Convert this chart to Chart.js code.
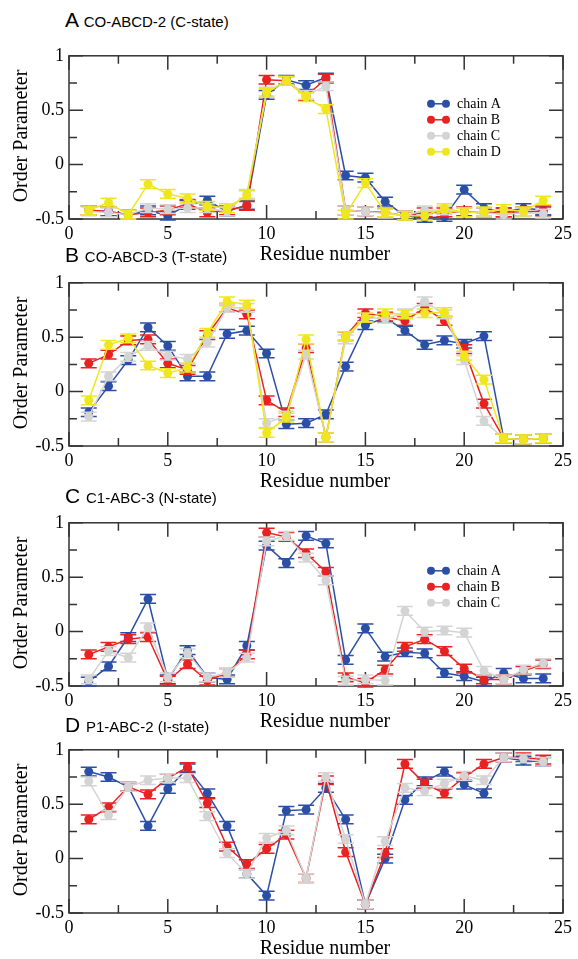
<!DOCTYPE html>
<html>
<head>
<meta charset="utf-8">
<script src="https://cdn.jsdelivr.net/npm/chart.js@4.4.1/dist/chart.umd.min.js"></script>
<style>
body { margin: 0; background: #fff; }
#page { position: relative; width: 578px; height: 959px; overflow: hidden; }
canvas { position: absolute; left: 0; }
.title { position: absolute; left: 65px; font-family: 'Liberation Sans', Arial, sans-serif; font-size: 21px; line-height: 1; white-space: nowrap; color: #000; }
.title span { font-size: 15px; }
.xlab { position: absolute; width: 200px; text-align: center; font-family: 'Liberation Serif', serif; font-size: 20px; line-height: 1; white-space: nowrap; color: #000; }
.ylab { position: absolute; width: 200px; height: 20px; text-align: center; font-family: 'Liberation Serif', serif; font-size: 20px; line-height: 20px; white-space: nowrap; color: #000; transform: rotate(-90deg); }
</style>
</head>
<body>
<div id="page"></div>
<script>
Chart.defaults.font.family = "'Liberation Serif', serif";
Chart.defaults.color = '#000';

const residues = [1, 2, 3, 4, 5, 6, 7, 8, 9, 10, 11, 12, 13, 14, 15, 16, 17, 18, 19, 20, 21, 22, 23, 24];

// A  CO-ABCD-2 (C-state)
const cStateA = [-0.42, -0.43, -0.46, -0.42, -0.47, -0.37, -0.33, -0.43, -0.37, 0.64, 0.78, 0.73, 0.80, -0.10, -0.12, -0.34, -0.47, -0.49, -0.48, -0.23, -0.40, -0.44, -0.40, -0.42];
const cStateB = [-0.42, -0.43, -0.46, -0.44, -0.42, -0.36, -0.44, -0.42, -0.38, 0.78, 0.77, 0.63, 0.79, -0.42, -0.43, -0.44, -0.47, -0.44, -0.44, -0.43, -0.44, -0.44, -0.43, -0.43];
const cStateC = [-0.43, -0.44, -0.46, -0.40, -0.41, -0.40, -0.40, -0.43, -0.27, 0.67, 0.77, 0.64, 0.72, -0.42, -0.43, -0.45, -0.47, -0.42, -0.42, -0.44, -0.44, -0.46, -0.44, -0.45];
const cStateD = [-0.42, -0.35, -0.46, -0.18, -0.27, -0.31, -0.38, -0.40, -0.28, 0.66, 0.77, 0.62, 0.51, -0.46, -0.17, -0.44, -0.47, -0.47, -0.40, -0.44, -0.43, -0.41, -0.43, -0.33];

// B  CO-ABCD-3 (T-state)
const tStateA = [-0.19, 0.05, 0.29, 0.59, 0.42, 0.14, 0.14, 0.53, 0.56, 0.35, -0.30, -0.29, -0.21, 0.23, 0.61, 0.68, 0.56, 0.43, 0.47, 0.44, 0.51, -0.43, -0.44, -0.43];
const tStateB = [0.26, 0.34, 0.47, 0.48, 0.26, 0.20, 0.52, 0.77, 0.71, -0.08, -0.19, 0.40, -0.42, 0.51, 0.72, 0.69, 0.65, 0.77, 0.65, 0.39, -0.11, -0.43, -0.44, -0.43];
const tStateC = [-0.23, 0.14, 0.32, 0.42, 0.33, 0.30, 0.45, 0.77, 0.77, -0.29, -0.22, 0.34, -0.42, 0.48, 0.68, 0.67, 0.72, 0.83, 0.71, 0.29, -0.27, -0.43, -0.44, -0.43];
const tStateD = [-0.08, 0.43, 0.49, 0.24, 0.17, 0.22, 0.54, 0.83, 0.80, -0.38, -0.24, 0.48, -0.42, 0.51, 0.68, 0.72, 0.71, 0.72, 0.73, 0.33, 0.11, -0.43, -0.44, -0.43];

// C  C1-ABC-3 (N-state)
const nStateA = [-0.46, -0.32, -0.05, 0.30, -0.44, -0.17, -0.42, -0.44, -0.13, 0.79, 0.63, 0.88, 0.81, -0.26, 0.03, -0.23, -0.19, -0.20, -0.38, -0.41, -0.46, -0.38, -0.43, -0.43];
const nStateB = [-0.21, -0.14, -0.07, -0.05, -0.45, -0.30, -0.45, -0.38, -0.21, 0.91, 0.87, 0.72, 0.55, -0.42, -0.47, -0.35, -0.14, -0.07, -0.18, -0.34, -0.44, -0.44, -0.36, -0.30];
const nStateC = [-0.44, -0.18, -0.24, 0.04, -0.42, -0.20, -0.42, -0.38, -0.24, 0.83, 0.88, 0.68, 0.47, -0.45, -0.44, -0.45, 0.19, 0.00, 0.01, -0.01, -0.36, -0.44, -0.35, -0.29];

// D  P1-ABC-2 (I-state)
const iStateA = [0.80, 0.75, 0.66, 0.30, 0.64, 0.83, 0.60, 0.30, -0.14, -0.34, 0.44, 0.45, 0.65, 0.36, -0.42, 0.00, 0.54, 0.71, 0.80, 0.68, 0.60, 0.93, 0.90, 0.89];
const iStateB = [0.36, 0.47, 0.66, 0.59, 0.74, 0.84, 0.51, 0.11, -0.05, 0.09, 0.22, -0.18, 0.72, 0.06, -0.42, 0.05, 0.87, 0.69, 0.60, 0.75, 0.87, 0.93, 0.93, 0.91];
const iStateC = [0.71, 0.40, 0.66, 0.72, 0.74, 0.74, 0.39, 0.05, -0.14, 0.19, 0.26, -0.18, 0.75, 0.18, -0.42, 0.16, 0.65, 0.62, 0.69, 0.76, 0.72, 0.93, 0.92, 0.89];

// half length of the error bars
const errBar = 0.04;

const xTicks = [0, 5, 10, 15, 20, 25];
const yTicks = [-0.5, 0, 0.5, 1];

const blue = '#2b4ea6';
const red = '#e82222';
const grey = '#d4d4d4';
const yellow = '#efe61e';

const PLOT_H = 167;


// frame with inward ticks on all four sides
const frame = {
    id: 'frame',
    beforeDatasetsDraw(chart) {
        const { ctx, chartArea: a, scales: { x, y } } = chart;
        ctx.save();
        ctx.strokeStyle = '#333';
        ctx.lineWidth = 1.5;
        ctx.strokeRect(a.left, a.top, a.right - a.left, a.bottom - a.top);
        ctx.beginPath();
        for (let i = 0; i < xTicks.length; i++) {
            const steps = [xTicks[i]];
            if (i < xTicks.length - 1) steps.push((xTicks[i] + xTicks[i + 1]) / 2);
            steps.forEach((v, k) => {
                const len = k === 0 ? 14 : 8;
                const px = x.getPixelForValue(v);
                ctx.moveTo(px, a.bottom); ctx.lineTo(px, a.bottom - len);
                ctx.moveTo(px, a.top); ctx.lineTo(px, a.top + len);
            });
        }
        for (let i = 0; i < yTicks.length; i++) {
            const steps = [yTicks[i]];
            if (i < yTicks.length - 1) steps.push((yTicks[i] + yTicks[i + 1]) / 2);
            steps.forEach((v, k) => {
                const len = k === 0 ? 14 : 8;
                const py = y.getPixelForValue(v);
                ctx.moveTo(a.left, py); ctx.lineTo(a.left + len, py);
                ctx.moveTo(a.right, py); ctx.lineTo(a.right - len, py);
            });
        }
        ctx.stroke();
        ctx.restore();
    }
};


// vertical error bars with caps, in the colour of each chain
const errorBars = {
    id: 'errorBars',
    beforeDatasetDraw(chart, args) {
        const { ctx, scales: { y } } = chart;
        const ds = chart.data.datasets[args.index];
        ctx.save();
        ctx.strokeStyle = ds.borderColor;
        ctx.lineWidth = 1.5;
        ctx.beginPath();
        args.meta.data.forEach((pt, j) => {
            const v = ds.data[j].y;
            const top = y.getPixelForValue(v + errBar);
            const bot = y.getPixelForValue(v - errBar);
            ctx.moveTo(pt.x, top); ctx.lineTo(pt.x, bot);
            ctx.moveTo(pt.x - 8, top); ctx.lineTo(pt.x + 8, top);
            ctx.moveTo(pt.x - 8, bot); ctx.lineTo(pt.x + 8, bot);
        });
        ctx.stroke();
        ctx.restore();
    }
};


// grace style key: dot - line - dot, then the label
const chainKey = {
    id: 'chainKey',
    afterDraw(chart, args, opts) {
        if (!opts.show) return;
        const { ctx, chartArea: a } = chart;
        const x0 = a.left + 362;
        ctx.save();
        ctx.font = "14px 'Liberation Serif', serif";
        ctx.textBaseline = 'middle';
        chart.data.datasets.forEach((ds, i) => {
            const yy = a.top + 48 + i * 16;
            ctx.strokeStyle = ds.borderColor;
            ctx.fillStyle = ds.borderColor;
            ctx.lineWidth = 1.5;
            ctx.beginPath();
            ctx.moveTo(x0, yy); ctx.lineTo(x0 + 15, yy);
            ctx.stroke();
            [x0, x0 + 15].forEach(cx => {
                ctx.beginPath();
                ctx.arc(cx, yy, 4, 0, Math.PI * 2);
                ctx.fill();
            });
            ctx.fillStyle = '#000';
            ctx.fillText(ds.label, x0 + 26, yy + 1);
        });
        ctx.restore();
    }
};


function addText(cls, html, left, top) {
    const el = document.createElement('div');
    el.className = cls;
    el.innerHTML = html;
    el.style.left = left + 'px';
    el.style.top = top + 'px';
    document.getElementById('page').appendChild(el);
}


function addPanel(p) {
    const page = document.getElementById('page');
    const canvas = document.createElement('canvas');
    canvas.width = 578;
    canvas.height = 12 + PLOT_H + 30;
    canvas.style.top = (p.top - 12) + 'px';
    page.appendChild(canvas);

    addText('title', p.letter + ' <span>' + p.name + '</span>', 65, p.titleBase - 18);
    addText('xlab', 'Residue number', 225, p.top + PLOT_H + 41 - 17);
    addText('ylab', 'Order Parameter', 20 - 100, p.top + PLOT_H / 2 - 10);

    new Chart(canvas, {
        type: 'line',
        data: {
            datasets: p.series.map((s, i) => ({
                label: s.label,
                data: residues.map((r, j) => ({ x: r, y: s.values[j] })),
                borderColor: s.color,
                backgroundColor: s.color,
                pointBackgroundColor: s.color,
                pointBorderColor: s.color,
                pointRadius: 4.5,
                pointBorderWidth: 0,
                borderWidth: 1.5,
                tension: 0,
                clip: false,
                order: p.series.length - i
            }))
        },
        options: {
            responsive: false,
            animation: false,
            devicePixelRatio: 1,
            layout: { padding: { top: 12, right: 15, left: 0, bottom: 0 } },
            plugins: {
                legend: { display: false },
                tooltip: { enabled: false },
                chainKey: { show: p.key }
            },
            scales: {
                x: {
                    type: 'linear',
                    min: xTicks[0],
                    max: xTicks[xTicks.length - 1],
                    afterBuildTicks(s) { s.ticks = xTicks.map(v => ({ value: v })); },
                    ticks: { padding: 4, font: { size: 18 }, color: '#000', callback: v => String(v) },
                    grid: { display: false, drawTicks: false },
                    border: { display: false },
                    afterFit(s) { s.height = 30; }
                },
                y: {
                    min: yTicks[0],
                    max: yTicks[yTicks.length - 1],
                    afterBuildTicks(s) { s.ticks = yTicks.map(v => ({ value: v })); },
                    ticks: { padding: 5, font: { size: 18 }, color: '#000', callback: v => String(v) },
                    grid: { display: false, drawTicks: false },
                    border: { display: false },
                    afterFit(s) { s.width = 69; }
                }
            }
        },
        plugins: [frame, errorBars, chainKey]
    });
}


addPanel({
    top: 52, titleBase: 27, letter: 'A', name: 'CO-ABCD-2 (C-state)', key: true,
    series: [
        { label: 'chain A', values: cStateA, color: blue },
        { label: 'chain B', values: cStateB, color: red },
        { label: 'chain C', values: cStateC, color: grey },
        { label: 'chain D', values: cStateD, color: yellow }
    ]
});

addPanel({
    top: 279, titleBase: 262, letter: 'B', name: 'CO-ABCD-3 (T-state)', key: false,
    series: [
        { label: 'chain A', values: tStateA, color: blue },
        { label: 'chain B', values: tStateB, color: red },
        { label: 'chain C', values: tStateC, color: grey },
        { label: 'chain D', values: tStateD, color: yellow }
    ]
});

addPanel({
    top: 519, titleBase: 503, letter: 'C', name: 'C1-ABC-3 (N-state)', key: true,
    series: [
        { label: 'chain A', values: nStateA, color: blue },
        { label: 'chain B', values: nStateB, color: red },
        { label: 'chain C', values: nStateC, color: grey }
    ]
});

addPanel({
    top: 746, titleBase: 732, letter: 'D', name: 'P1-ABC-2 (I-state)', key: false,
    series: [
        { label: 'chain A', values: iStateA, color: blue },
        { label: 'chain B', values: iStateB, color: red },
        { label: 'chain C', values: iStateC, color: grey }
    ]
});
</script>
</body>
</html>
